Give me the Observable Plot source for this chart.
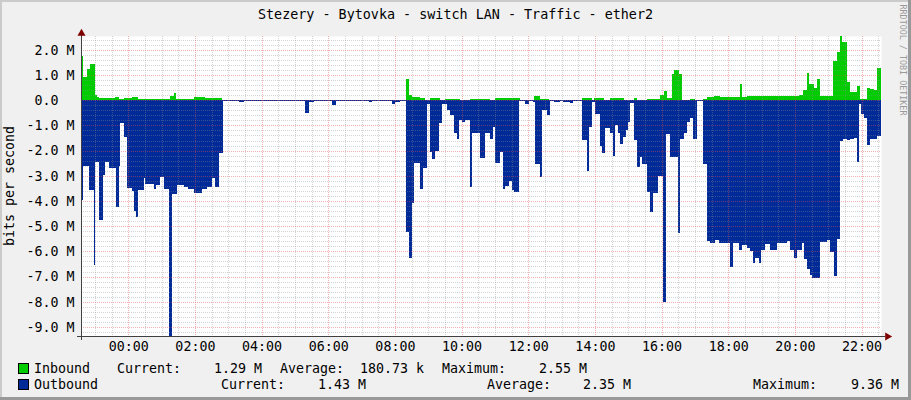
<!DOCTYPE html>
<html><head><meta charset="utf-8">
<script src="https://cdn.jsdelivr.net/npm/d3@7"></script>
<script src="https://cdn.jsdelivr.net/npm/@observablehq/plot@0.6"></script>
<style>
html,body{margin:0;padding:0;background:#F0F0F0;}
#chart{position:relative;width:911px;height:400px;background:#F0F0F0;overflow:hidden;font-family:"DejaVu Sans Mono",monospace;color:#000;}
#chart svg{position:absolute;left:0;top:0;}
.t{position:absolute;white-space:pre;font-size:13.3px;line-height:16px;}
.box{position:absolute;width:9px;height:9px;border:1px solid #000;}
</style></head><body><div id="chart"></div>
<script>
const title = "Stezery - Bytovka - switch LAN - Traffic - ether2";
const yLabel = "bits per second";
const credit = "RRDTOOL / TOBI OETIKER";
const hourTicks = [0, 2, 4, 6, 8, 10, 12, 14, 16, 18, 20, 22];
const yTicks = [-9, -8, -7, -6, -5, -4, -3, -2, -1, 0, 1, 2];
// minutes relative to 00:00 where each step starts; values in Mbit/s
const outTimes = [-85,-82,-71,-62,-59,-52,-46,-41,-34,-22,-17,-15,-8,-3,6,10,14,17,28,31,46,50,58,64,74,78,87,100,108,118,132,141,150,157,164,170,175,190,200,208,319,326,334,366,374,433,439,475,481,490,500,506,511,515,526,530,537,543,547,553,560,565,573,580,586,591,596,601,607,615,619,633,642,652,657,661,669,675,679,685,691,695,704,715,721,729,733,741,745,753,759,766,778,783,796,801,817,825,829,835,841,849,853,858,868,873,877,881,886,891,896,899,904,910,915,921,925,933,939,944,953,963,968,976,989,993,1000,1006,1012,1017,1023,1035,1042,1048,1057,1063,1083,1088,1099,1105,1113,1120,1125,1129,1135,1139,1147,1156,1167,1186,1191,1198,1203,1213,1216,1222,1227,1231,1245,1258,1264,1270,1275,1281,1287,1293,1300,1306,1312,1316,1319,1324,1330,1336,1348];
const outValues = [3.98,2.63,3.56,6.55,2.44,4.77,2.96,2.44,2.70,4.22,2.63,0.90,1.45,3.49,3.60,4.41,4.64,3.56,3.10,3.32,3.53,3.36,3.03,3.53,9.36,3.72,3.36,3.43,3.53,3.69,3.53,3.43,3.10,3.45,2.11,0.02,0.04,0.01,0.07,0.01,0.50,0.07,0.01,0.20,0.01,0.09,0.01,0.16,0.07,0.02,5.24,6.26,4.08,2.50,3.53,2.70,0.16,2.04,2.35,2.00,0.90,0.13,0.40,0.59,1.32,1.52,0.79,0.86,0.79,3.45,1.32,2.28,1.32,1.52,1.05,2.50,2.04,3.53,3.40,3.20,3.58,3.65,0.01,0.13,0.02,0.07,2.53,3.03,0.40,0.57,0.02,0.09,0.02,0.07,0.11,0.02,1.58,2.79,1.08,0.07,0.53,1.82,2.08,1.12,1.32,2.21,0.99,1.29,1.74,1.45,1.19,0.86,0.11,1.58,2.66,2.24,2.53,3.66,4.45,3.69,3.00,8.01,1.34,2.25,5.27,1.52,1.32,0.86,0.69,1.54,0.01,2.54,5.60,5.67,5.56,5.67,6.61,5.67,5.96,5.73,5.86,5.99,6.46,6.26,6.48,5.93,5.69,5.93,5.67,5.60,5.93,6.26,5.96,5.67,6.32,6.69,6.92,7.07,5.64,5.53,6.04,6.96,5.51,1.60,1.52,1.58,1.52,1.48,2.44,0.16,0.53,0.72,1.78,1.52,1.43];
const inTimes = [-85,-82,-74,-68,-59,-56,-52,-30,-23,-17,-8,6,18,76,82,86,118,139,168,500,506,511,526,535,543,562,571,598,615,652,661,706,730,742,757,817,835,838,856,868,892,910,916,933,958,964,970,979,983,991,997,1012,1021,1035,1042,1054,1066,1081,1087,1101,1105,1113,1123,1156,1207,1215,1221,1226,1234,1240,1245,1269,1276,1282,1285,1293,1299,1312,1317,1329,1336,1342,1348];
const inValues = [1.74,0.92,1.25,1.42,0.20,0.13,0.09,0.07,0.13,0.03,0.07,0.13,0.04,0.16,0.29,0.04,0.13,0.07,0.01,0.86,0.20,0.13,0.07,0.01,0.07,0.02,0.04,0.02,0.04,0.02,0.07,0.02,0.16,0.05,0.01,0.10,0.02,0.09,0.02,0.07,0.02,0.09,0.02,0.05,0.20,0.36,0.09,1.05,1.20,1.03,0.02,0.04,0.01,0.04,0.13,0.16,0.11,0.14,0.11,0.63,0.13,0.18,0.16,0.18,0.20,0.42,1.08,0.66,0.47,0.86,0.16,1.55,1.91,2.55,2.31,0.72,0.33,0.55,0.03,0.50,0.46,0.40,1.29];
const seriesNames = ["Inbound", "Outbound"];
const seriesColors = ["#00CC00", "#002A97"];
const statLabels = ["Current:", "Average:", "Maximum:"];
const inStats = ["1.29 M", "180.73 k", "2.55 M"];
const outStats = ["1.43 M", "2.35 M", "9.36 M"];

const xDomain = [-85, 1355];
const yDomain = [-9.36, 2.55];

const inData = inTimes.map((t, i) => ({t, v: inValues[i]}));
inData.push({t: xDomain[1], v: inValues[inValues.length - 1]});
const outData = outTimes.map((t, i) => ({t, v: -outValues[i]}));
outData.push({t: xDomain[1], v: -outValues[outValues.length - 1]});

const minorX = d3.range(-60, xDomain[1], 30).filter(m => m % 120 !== 0);
const majorX = d3.range(0, xDomain[1], 120);
const minorY = d3.range(-46, 13).map(i => +(i * 0.2).toFixed(1)).filter(v => Math.abs(v - Math.round(v)) > 1e-6 && v > yDomain[0] && v < yDomain[1]);
const majorY = yTicks;

const GRID = "rgba(143,143,143,0.38)";
const MGRID = "rgba(222,80,80,0.45)";

const chart = Plot.plot({
  width: 911, height: 362,
  marginLeft: 81, marginRight: 30, marginTop: 36, marginBottom: 26,
  style: {background: "transparent", fontFamily: "'DejaVu Sans Mono', monospace", fontSize: "13.3px", color: "#000", overflow: "visible"},
  x: {domain: xDomain, ticks: hourTicks.map(h => h * 60), tickFormat: m => String(m / 60).padStart(2, "0") + ":00", tickSize: 0, tickPadding: 5, label: null},
  y: {domain: yDomain, ticks: yTicks, tickFormat: v => v === 0 ? "0.0\u00a0\u00a0" : v.toFixed(1) + "\u00a0M", tickSize: 0, tickPadding: 7, label: null},
  marks: [
    Plot.frame({fill: "white", stroke: null}),
    Plot.areaY(outData, {x: "t", y: "v", curve: "step-after", fill: seriesColors[1], shapeRendering: "crispEdges"}),
    Plot.areaY(inData, {x: "t", y: "v", curve: "step-after", fill: seriesColors[0], shapeRendering: "crispEdges"}),
    Plot.ruleY([0], {stroke: seriesColors[1], strokeWidth: 1, shapeRendering: "crispEdges"}),
    Plot.ruleX(minorX, {stroke: GRID, strokeDasharray: "1,1", shapeRendering: "crispEdges"}),
    Plot.ruleY(minorY, {stroke: GRID, strokeDasharray: "1,1", shapeRendering: "crispEdges"}),
    Plot.ruleX(majorX, {stroke: MGRID, strokeDasharray: "1,1", shapeRendering: "crispEdges"}),
    Plot.ruleY(majorY, {stroke: MGRID, strokeDasharray: "1,1", shapeRendering: "crispEdges"}),
    Plot.ruleY([yDomain[0]], {stroke: "#404040", insetLeft: -4, insetRight: -4, shapeRendering: "crispEdges"}),
    Plot.ruleX([xDomain[0]], {stroke: "#404040", insetBottom: -4, insetTop: -2, shapeRendering: "crispEdges"}),
    Plot.dot([{t: xDomain[1], v: yDomain[0]}], {x: "t", y: "v", symbol: "triangle", rotate: 90, r: 3, fill: "#7F0000", stroke: null, dx: 6}),
    Plot.dot([{t: xDomain[0], v: yDomain[1]}], {x: "t", y: "v", symbol: "triangle", r: 3, fill: "#7F0000", stroke: null, dy: -3})
  ]
});
const root = document.getElementById("chart");
root.appendChild(chart);

function addText(txt, left, top, extra) {
  const d = document.createElement("div");
  d.className = "t";
  d.textContent = txt;
  d.style.left = left + "px";
  d.style.top = top + "px";
  if (extra) Object.assign(d.style, extra);
  root.appendChild(d);
  return d;
}
// title
addText(title, 0, 7, {width: "911px", textAlign: "center", fontSize: "13.4px"});
// y label
addText(yLabel, 10, 186, {transform: "translate(-50%,-50%) rotate(-90deg)", transformOrigin: "center"});
// credit
addText(credit, 903, 60, {fontSize: "8.4px", color: "#9A9A9A", transform: "translate(-50%,-50%) rotate(90deg)", lineHeight: "10px"});

// legend
const rows = [
  {y: 361, pos: [[34], [117], [262, "r"], [280], [424, "r"], [442], [587, "r"]]},
  {y: 377, pos: [[34], [221], [366, "r"], [487], [631, "r"], [753], [899, "r"]]}
];
const statsAll = [inStats, outStats];
rows.forEach((r, i) => {
  const b = document.createElement("div");
  b.className = "box";
  b.style.left = "18px"; b.style.top = (r.y + 2) + "px"; b.style.background = seriesColors[i];
  root.appendChild(b);
  const tokens = [seriesNames[i], statLabels[0], statsAll[i][0], statLabels[1], statsAll[i][1], statLabels[2], statsAll[i][2]];
  tokens.forEach((tok, k) => {
    const [x, al] = r.pos[k];
    if (al === "r") addText(tok, x, r.y, {transform: "translateX(-100%)"});
    else addText(tok, x, r.y);
  });
});

// frame shading
const sh = [
  {left: 0, top: 0, width: 911, height: 2, background: "#CBCBCB"},
  {left: 0, top: 0, width: 2, height: 400, background: "#CBCBCB"},
  {left: 908, top: 0, width: 3, height: 400, background: "#999999"},
  {left: 0, top: 397, width: 911, height: 3, background: "#999999"}
];
sh.forEach(s => { const d = document.createElement("div"); d.style.position = "absolute"; for (const k in s) d.style[k] = typeof s[k] === "number" ? s[k] + "px" : s[k]; root.appendChild(d); });
</script></body></html>
